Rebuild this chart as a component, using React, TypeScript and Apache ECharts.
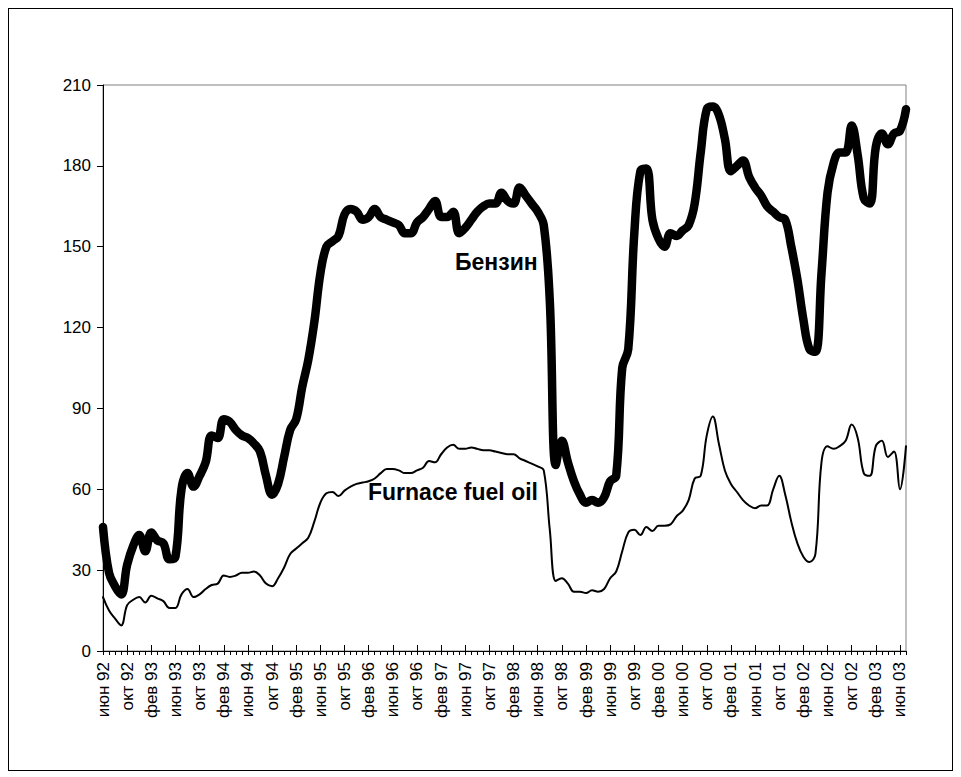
import React, { useEffect, useRef } from "react";
import * as echarts from "echarts";

// Month abbreviations used for the category axis (series starts June 1992)
const MONTHS = ["янв", "фев", "мар", "апр", "май", "июн", "июл", "авг", "сен", "окт", "ноя", "дек"];
const START_MONTH = 5; // июн
const START_YEAR = 92;

// Бензин (petrol), monthly, June 1992 – July 2003
const petrol = [
  46, 29, 24, 21, 32, 39, 43, 37, 44, 41,
  40, 34, 35, 60, 66, 61, 65, 70, 80, 79,
  86, 85, 82, 80, 79, 77, 74, 65, 58, 62,
  72, 82, 86, 98, 108, 122, 140, 150, 152, 154,
  162, 164, 163, 160, 161, 164, 161, 160, 159, 158,
  155, 155, 159, 161, 164, 167, 161, 161, 163, 155,
  157, 160, 163, 165, 166, 166, 170, 167, 166, 172,
  169, 166, 163, 158, 130, 69, 78, 70, 63, 58,
  55, 56, 55, 57, 63, 65, 105, 112, 155, 178,
  179, 160, 153, 150, 155, 154, 156, 158, 166, 185,
  201, 202, 199, 190, 178, 180, 182, 176, 172, 169,
  165, 163, 161, 160, 150, 138, 123, 112, 111, 140,
  170, 181, 185, 185, 195, 184, 168, 166, 187, 192,
  188, 192, 193, 201,
];

// Furnace fuel oil, monthly, June 1992 – July 2003
const fuelOil = [
  20, 15, 12, 9.5, 17, 19, 20, 18, 20.5, 19.5,
  18.5, 16, 16, 21, 23, 20, 21, 23, 24.5, 25,
  28, 27.5, 28, 29, 29, 29.5, 28, 25, 24, 27,
  31, 36, 38, 40, 42, 48, 55, 58.5, 59, 57.5,
  59.5, 61, 62, 62.5, 63, 64, 66, 67.5, 67.5, 67,
  66, 66, 67, 68, 70.5, 70, 73, 75.5, 76.5, 75,
  75, 75.5, 75, 74.5, 74.5, 74, 73.5, 73, 73, 71.5,
  70.5, 69.5, 68.5, 67, 45, 26, 27, 25, 22, 22,
  21.5, 22.5, 22, 23, 27, 29.5, 37, 44, 45, 43,
  46, 44.5, 46.5, 46.5, 47, 50, 52, 56, 64, 65,
  80, 87, 77, 67, 62, 59, 56, 54, 53, 54,
  54, 60, 65, 58, 48, 40, 35, 33, 36, 70,
  76, 75, 76, 78, 84, 79, 66, 65, 76, 78,
  72, 74, 60, 76,
];

const categories: string[] = petrol.map((_, i) => {
  const m = START_MONTH + i;
  const yy = (START_YEAR + Math.floor(m / 12)) % 100;
  return MONTHS[m % 12] + " " + String(yy).padStart(2, "0");
});

const FONT = "'Liberation Sans', Arial, sans-serif";

export default function App() {
  const ref = useRef<HTMLDivElement>(null);

  useEffect(() => {
    if (!ref.current) return;
    const chart = echarts.init(ref.current, undefined, { renderer: "svg" });
    chart.setOption({
      animation: false,
      backgroundColor: "#fff",
      textStyle: { fontFamily: FONT },
      grid: {
        left: 94,
        top: 76,
        width: 803,
        height: 566,
        show: true,
        borderColor: "#808080",
        borderWidth: 1,
        backgroundColor: "transparent",
      },
      xAxis: [
        {
          type: "category",
          data: categories,
          boundaryGap: false,
          axisLine: { show: true, lineStyle: { color: "#000", width: 1 } },
          axisTick: { show: true, interval: 0, length: 4, lineStyle: { color: "#000" } },
          axisLabel: {
            interval: 3,
            rotate: 90,
            fontSize: 17,
            color: "#000",
            fontFamily: FONT,
            margin: 11,
          },
          splitLine: { show: false },
        },
        {
          type: "category",
          data: categories,
          boundaryGap: false,
          position: "bottom",
          axisLine: { show: false },
          axisTick: { show: true, inside: true, interval: 3, length: 6, lineStyle: { color: "#000" } },
          axisLabel: { show: false },
          splitLine: { show: false },
        },
      ],
      yAxis: {
        type: "value",
        min: 0,
        max: 210,
        interval: 30,
        axisLine: { show: true, lineStyle: { color: "#000", width: 1 } },
        axisTick: { show: true, length: 6, lineStyle: { color: "#000" } },
        axisLabel: { fontSize: 17, color: "#000", fontFamily: FONT, margin: 12 },
        splitLine: { show: false },
      },
      series: [
        {
          name: "Furnace fuel oil",
          type: "line",
          xAxisIndex: 0,
          data: fuelOil,
          smooth: 0.4,
          symbol: "none",
          lineStyle: { color: "#000", width: 2, join: "round", cap: "round" },
        },
        {
          name: "Бензин",
          type: "line",
          xAxisIndex: 0,
          data: petrol,
          smooth: 0.4,
          symbol: "none",
          lineStyle: { color: "#000", width: 8.5, join: "round", cap: "round" },
        },
      ],
      graphic: [
        {
          type: "text",
          left: 446,
          top: 241,
          style: { text: "Бензин", font: "bold 23px " + FONT, fill: "#000" },
        },
        {
          type: "text",
          left: 359,
          top: 471,
          style: { text: "Furnace fuel oil", font: "bold 23px " + FONT, fill: "#000" },
        },
      ],
    });
    return () => chart.dispose();
  }, []);

  return (
    <div
      style={{
        width: 945,
        height: 763,
        border: "1px solid #000",
        boxSizing: "border-box",
        position: "relative",
        background: "#fff",
      }}
    >
      <div ref={ref} style={{ position: "absolute", left: 0, top: 0, width: 943, height: 761 }} />
    </div>
  );
}
